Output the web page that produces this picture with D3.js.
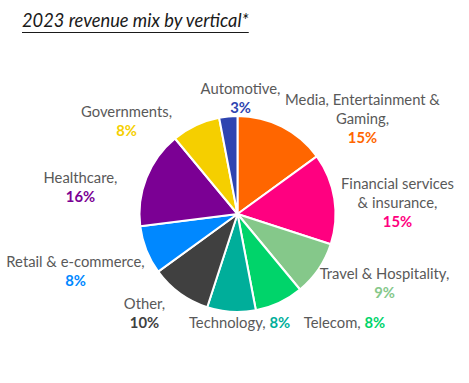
<!DOCTYPE html>
<html><head><meta charset="utf-8">
<script src="https://cdn.jsdelivr.net/npm/d3@7"></script>
<style>
html,body{margin:0;padding:0;background:#fff;}
text{font-family:Lato,"Open Sans",sans-serif;}
</style></head>
<body>
<svg id="chart" width="469" height="383"></svg>
<script>
// ---- data ----
const categories = ["Media, Entertainment & Gaming","Financial services & insurance","Travel & Hospitality","Telecom","Technology","Other","Retail & e-commerce","Healthcare","Governments","Automotive"];
const shares = [15,15,9,8,8,10,8,16,8,3];
const colors = ["#FF6600","#FF0080","#85C88A","#00D46A","#00AE9A","#404040","#0088FF","#7B0094","#F5CF00","#2E44B0"];
// label text lines (category part), percent shown after
const labelLines = [["Media, Entertainment &","Gaming,"],["Financial services","& insurance,"],["Travel & Hospitality,"],["Telecom,"],["Technology,"],["Other,"],["Retail & e-commerce,"],["Healthcare,"],["Governments,"],["Automotive,"]];
const title = "2023 revenue mix by vertical*";

// ---- layout (not data) ----
const cx = 237.5, cy = 214, R = 98;
// label block centres relative to pie centre, and whether percent is inline
const labelPos = [[125,-96],[160,-12],[147,68],[107,108],[2,108],[-93,98],[-162,56],[-157,-28],[-111,-94],[3,-117]];
const inline = [false,false,false,true,true,false,false,false,false,false];
const lineH = 19;

const svg = d3.select("#chart");

// title
const t = svg.append("text").attr("x",22).attr("y",27)
  .attr("font-size",18.3).attr("font-style","italic").attr("fill","#1a1a1a")
  .text(title);
const tw = t.node().getComputedTextLength();
svg.append("line").attr("x1",22).attr("x2",22+tw).attr("y1",32.5).attr("y2",32.5)
  .attr("stroke","#1a1a1a").attr("stroke-width",1.2);

const data = categories.map((c,i)=>({name:c, value:shares[i], color:colors[i], i}));
const pie = d3.pie().value(d=>d.value).sort(null);
const arc = d3.arc().innerRadius(0).outerRadius(R);

const g = svg.append("g").attr("transform",`translate(${cx},${cy})`);
g.selectAll("path").data(pie(data)).join("path")
  .attr("d",arc).attr("fill",d=>d.data.color)
  .attr("stroke","#fff").attr("stroke-width",2).attr("stroke-linejoin","round");

// labels
const fs = 14.8;
data.forEach((d,i)=>{
  const [dx,dy] = labelPos[i];
  const lines = labelLines[i];
  if (inline[i]) {
    const tx = g.append("text").attr("x",dx).attr("y",dy).attr("text-anchor","middle")
      .attr("dominant-baseline","central").attr("font-size",fs).attr("fill","#595959");
    tx.append("tspan").text(lines[0]+" ");
    tx.append("tspan").attr("font-weight","bold").attr("fill",d.color).text(d.value+"%");
  } else {
    const n = lines.length + 1;
    const y0 = dy - (n-1)*lineH/2;
    lines.forEach((l,k)=>{
      g.append("text").attr("x",dx).attr("y",y0+k*lineH).attr("text-anchor","middle")
        .attr("dominant-baseline","central").attr("font-size",fs).attr("fill","#595959").text(l);
    });
    g.append("text").attr("x",dx).attr("y",y0+(n-1)*lineH).attr("text-anchor","middle")
      .attr("dominant-baseline","central").attr("font-size",fs).attr("font-weight","bold")
      .attr("fill",d.color).text(d.value+"%");
  }
});
</script>
</body></html>
